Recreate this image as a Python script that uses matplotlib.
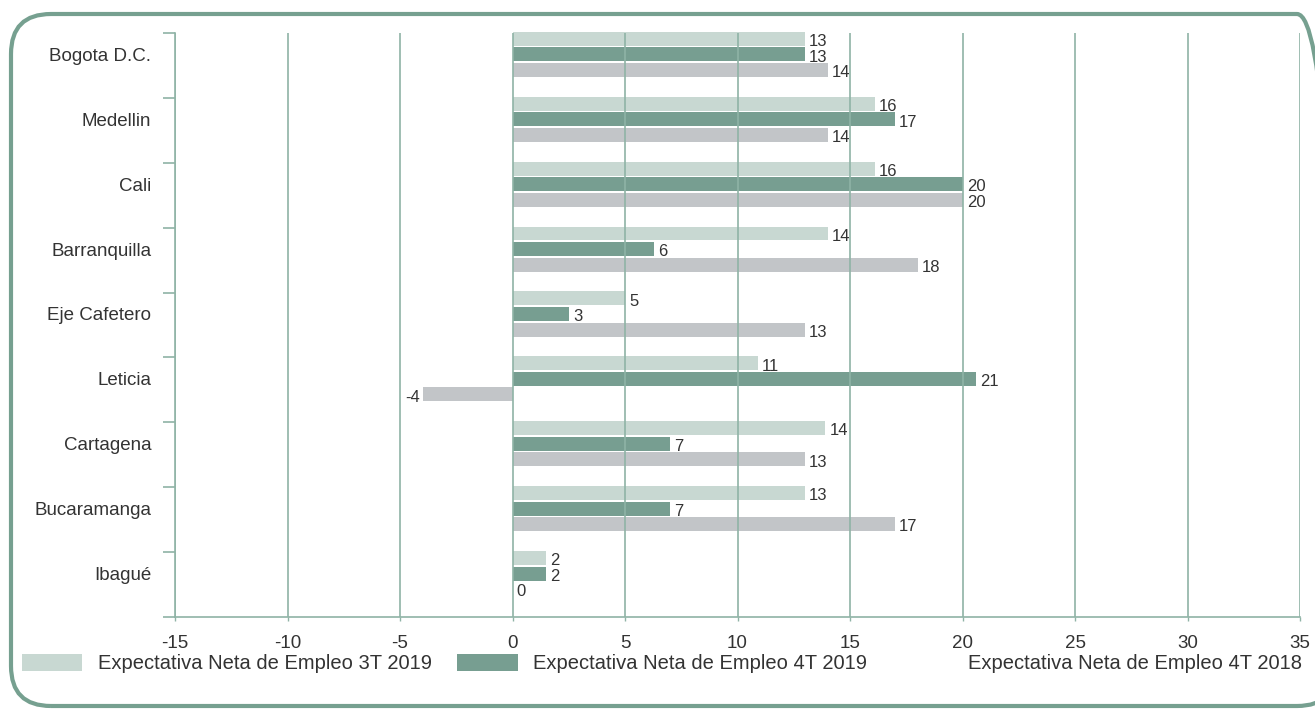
import matplotlib.pyplot as plt
import numpy as np
from matplotlib.patches import Patch, FancyBboxPatch
from matplotlib.transforms import IdentityTransform

plt.rcParams['font.family'] = ['Liberation Sans', 'DejaVu Sans']

# Data (bar lengths, and the rounded values printed next to them)
ciudades = ['Bogota D.C.', 'Medellin', 'Cali', 'Barranquilla', 'Eje Cafetero',
            'Leticia', 'Cartagena', 'Bucaramanga', 'Ibagué']
s3T2019 = [13, 16.1, 16.1, 14, 5, 10.9, 13.9, 13, 1.5]
s4T2019 = [13, 17, 20, 6.3, 2.5, 20.6, 7, 7, 1.5]
s4T2018 = [14, 14, 20, 18, 13, -4, 13, 17, 0]
lab3T2019 = [13, 16, 16, 14, 5, 11, 14, 13, 2]
lab4T2019 = [13, 17, 20, 6, 3, 21, 7, 7, 2]
lab4T2018 = [14, 14, 20, 18, 13, -4, 13, 17, 0]
nombres = ['Expectativa Neta de Empleo 3T 2019',
           'Expectativa Neta de Empleo 4T 2019',
           'Expectativa Neta de Empleo 4T 2018']
xticks = np.arange(-15, 40, 5)

colores = ['#c8d8d2', '#779e91', '#c2c5c8']
linea = '#8fb3a6'
texto = '#333333'

fig = plt.figure(figsize=(13.15, 7.11), dpi=100)
ax = fig.add_axes([175 / 1315, 1 - 617 / 711, 1125 / 1315, 584 / 711])

y = np.arange(len(ciudades))
paso = 0.24
alto = 0.215
series = [(s3T2019, lab3T2019), (s4T2019, lab4T2019), (s4T2018, lab4T2018)]
for k, (vals, labs) in enumerate(series):
    yk = y + (k - 1) * paso
    ax.barh(yk, vals, height=alto, color=colores[k], zorder=1 + 0.4 * k,
            clip_on=False)
    # labels of one series sit under the bars of the next one
    for yy, v, l in zip(yk, vals, labs):
        if v < 0:
            ax.annotate(str(l), (v, yy), xytext=(-2, -2), textcoords='offset points',
                        ha='right', va='center', fontsize=12, color=texto,
                        zorder=1.2 + 0.4 * k)
        else:
            ax.annotate(str(l), (v, yy), xytext=(3, -2), textcoords='offset points',
                        ha='left', va='center', fontsize=12, color=texto,
                        zorder=1.2 + 0.4 * k)

ax.set_xlim(-15, 35)
ax.set_ylim(len(ciudades) - 0.33, -0.33)
ax.set_xticks(xticks)
ax.set_xticklabels([str(t) for t in xticks])
ax.set_yticks(y)
ax.set_yticklabels(ciudades)
ax.set_yticks(np.arange(len(ciudades) + 1) - 0.33, minor=True)

ax.tick_params(axis='y', which='major', length=0, pad=17, labelsize=13.5,
               labelcolor=texto)
ax.tick_params(axis='y', which='minor', length=9, width=1.2, color=linea)
ax.tick_params(axis='x', which='major', length=3, width=1, color=linea,
               pad=10, labelsize=13.5, labelcolor=texto)

ax.grid(axis='x', color=linea, linewidth=1.2)
ax.set_axisbelow(False)
for s in ['top', 'right']:
    ax.spines[s].set_visible(False)
for s in ['left', 'bottom']:
    ax.spines[s].set_color(linea)
    ax.spines[s].set_linewidth(1.2)

handles = [Patch(facecolor=colores[0]), Patch(facecolor=colores[1]),
           Patch(facecolor='none', edgecolor='none')]
fig.legend(handles, nombres, loc='center left', ncol=3, mode='expand',
           bbox_to_anchor=(22 / 1315, 1 - 664 / 711, 1280 / 1315, 0.001),
           frameon=False, fontsize=14.5, handlelength=3.0, handleheight=0.95,
           handletextpad=0.75, borderpad=0, borderaxespad=0,
           labelcolor=texto)

# rounded frame; its right side lies past the edge of the picture
marco = FancyBboxPatch((11, 5), 1326, 692, boxstyle='round,pad=0,rounding_size=40',
                       transform=IdentityTransform(), facecolor='none',
                       edgecolor='#76a090', linewidth=3)
fig.add_artist(marco)

fig.savefig('out.png', dpi=100)
